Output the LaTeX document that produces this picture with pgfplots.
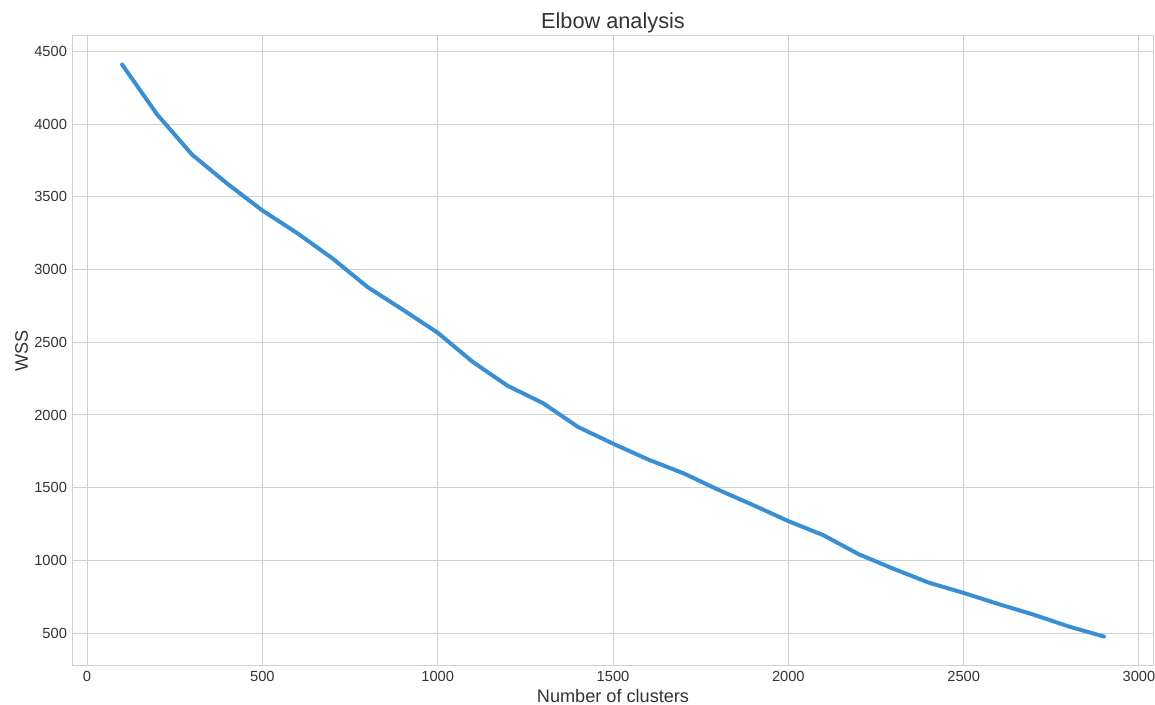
\documentclass[border=0pt]{standalone}
\usepackage{fontspec}
\setmainfont{Liberation Sans}
\usepackage{pgfplots}
\pgfplotsset{compat=1.18}

\definecolor{linecol}{RGB}{58,143,212}
\definecolor{gridcol}{RGB}{208,208,208}
\definecolor{txt}{RGB}{51,51,51}

\begin{document}
\begin{tikzpicture}[x=1pt,y=1pt]
\begin{axis}[
  name=ax,
  scale only axis,
  width=810pt, height=472pt,
  xmin=-40, xmax=3040,
  ymin=278, ymax=4607,
  xtick={0,500,...,3000},
  ytick={500,1000,...,4500},
  grid=major,
  major grid style={gridcol, line width=0.75pt},
  axis line style={gridcol, line width=0.75pt},
  major tick length=0pt,
  tick style={draw=none},
  ticklabel style={font=\fontsize{11}{13}\selectfont, text=txt},
  /pgf/number format/assume math mode=true,
  /pgf/number format/1000 sep={},
  xticklabel style={yshift=-1pt},
  yticklabel style={xshift=-1pt},
  title={Elbow analysis},
  title style={font=\fontsize{16.3}{19}\selectfont, text=txt, yshift=-7.25pt},
  xlabel={Number of clusters},
  ylabel={WSS},
  label style={font=\fontsize{13.6}{16}\selectfont, text=txt},
  xlabel style={yshift=1pt},
  ylabel style={yshift=-2.25pt},
]
\addplot[linecol, line width=3pt, line join=round, line cap=round] coordinates {
  (100,4411) (200,4067) (300,3790) (400,3591) (500,3407)
  (600,3250) (700,3077) (800,2880) (900,2725) (1000,2566)
  (1100,2365) (1200,2200) (1300,2082) (1400,1918) (1500,1803)
  (1600,1694) (1700,1600) (1800,1486) (1900,1380) (2000,1270)
  (2100,1173) (2200,1043) (2300,942) (2400,847) (2500,776)
  (2600,699) (2700,626) (2800,545) (2900,476)
};
\end{axis}
\pgfresetboundingbox
\path[use as bounding box] ([xshift=-54.75pt,yshift=-29.25pt]ax.south west) rectangle ([xshift=1.5pt,yshift=27pt]ax.north east);
\end{tikzpicture}
\end{document}
